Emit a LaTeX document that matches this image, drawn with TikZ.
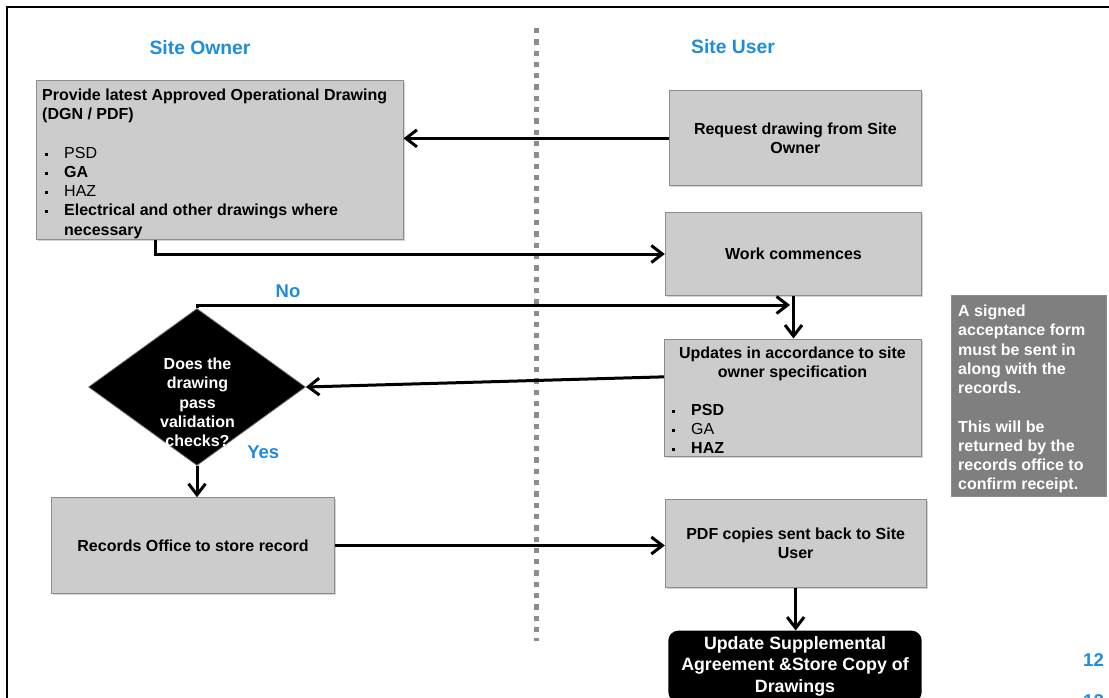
\documentclass[tikz,border=0pt]{standalone}
\usepackage{fontspec}
\setmainfont{Liberation Sans}
\usetikzlibrary{arrows.meta,shapes.geometric,shadows}
\definecolor{hblue}{RGB}{31,140,220}
\definecolor{boxgray}{RGB}{204,204,204}
\definecolor{boxedge}{RGB}{140,140,140}
\definecolor{notegray}{RGB}{127,127,127}
\definecolor{dotgray}{RGB}{140,140,140}
\newcommand\bul{\makebox[19pt][l]{\raisebox{2.5pt}{\rule{3pt}{3pt}}}}
\newcommand\fs[2]{\fontsize{#1}{#2}\selectfont}
\begin{document}
\begin{tikzpicture}[x=1pt,y=-1pt,
  box/.style={draw=boxedge, line width=1pt, fill=boxgray, inner sep=0pt,
    drop shadow={shadow xshift=1.5pt, shadow yshift=-1.5pt, opacity=0.35}},
  notebox/.style={draw=boxedge, line width=1pt, fill=notegray, inner sep=0pt},
  blackbox/.style={fill=black, rounded corners=10pt, inner sep=0pt, text=white,
    font=\fs{17.8}{21.5}\bfseries, align=center},
  decision/.style={diamond, fill=black, draw=black!55, line width=0.8pt, inner sep=0pt},
  body/.style={font=\fs{16}{19.2}\bfseries, text=black, inner sep=0pt},
  head/.style={font=\fs{19.3}{23}\bfseries, text=hblue, inner sep=0pt},
  lbl/.style={font=\fs{18.5}{22}\bfseries, text=hblue, inner sep=0pt},
  pagenum/.style={font=\fs{18.5}{22}\bfseries, text=hblue, inner sep=0pt},
  arr/.style={line width=3pt, -{Straight Barb[length=11pt,width=17pt]}},
  frame/.style={line width=2pt, draw=black},
  dotline/.style={line width=5pt, draw=dotgray, dash pattern=on 5.3pt off 6pt}
]
\useasboundingbox (0,0) rectangle (1109,698);
\clip (0,0) rectangle (1109,698);

% frame and lane divider
\draw[frame] (7,705) -- (7,7) -- (1115,7);
\draw[dotline] (536,28) -- (536,641);

% headings
\node[head] (hOwner) at (200,48) {Site Owner};
\node[head] (hUser) at (733,47) {Site User};

% boxes
\node[box, minimum width=366.5, minimum height=158.5] (box1) at (219.75,160.25) {};
\node[body, anchor=north west, align=left] (t1) at (42,89) {Provide latest Approved Operational Drawing\\(DGN / PDF)\\[19.2pt]%
\hspace*{3pt}\bul{\mdseries PSD}\\\hspace*{3pt}\bul GA\\\hspace*{3pt}\bul{\mdseries HAZ}\\%
\hspace*{3pt}\bul Electrical and other drawings where\\\hspace*{22pt}necessary};

\node[box, body, align=center, minimum width=252.7, minimum height=95.3] (box2) at (795.35,138.35) {Request drawing from Site\\Owner};
\node[box, body, align=center, minimum width=256.4, minimum height=83.4] (box3) at (793.5,254) {Work commences};

\node[box, minimum width=257.4, minimum height=117.7] (box4) at (793,397.85) {};
\node[body, anchor=north, align=center] (t4a) at (792.5,346.5) {Updates in accordance to site\\owner specification};
\node[body, anchor=north west, align=left] (t4b) at (672,404) {\bul PSD\\\bul{\mdseries GA}\\\bul HAZ};

\node[notebox, minimum width=155, minimum height=201.7] (note) at (1029.2,395.85) {};
\node[body, text=white, anchor=north west, align=left] (tnote) at (958,305) {A signed\\acceptance form\\must be sent in\\along with the\\records.\\[19.3pt]This will be\\returned by the\\records office to\\confirm receipt.};

\node[decision, minimum width=217, minimum height=157] (dia) at (197,387) {};
\node[body, text=white, anchor=north, align=center] (tdia) at (197.5,358) {Does the\\drawing\\pass\\validation\\checks?};

\node[box, body, align=center, minimum width=282.6, minimum height=95.6] (box5) at (193,545.5) {Records Office to store record};
\node[box, body, align=center, minimum width=260.7, minimum height=88.3] (box6) at (795.65,543.15) {PDF copies sent back to Site\\User};
\node[blackbox, minimum width=253.4, minimum height=71.3] (blk) at (795,666.35) {Update Supplemental\\Agreement \&Store Copy of\\Drawings};

% labels
\node[lbl] (lNo) at (288,291.7) {No};
\node[lbl] (lYes) at (263.3,452.7) {Yes};
\node[pagenum] (pg1) at (1093.5,660) {12};
\node[pagenum] (pg2) at (1093.5,701.5) {12};

% connectors
\coordinate (b1out) at (155,239.5);
\coordinate (nojoin) at (790,305);
\draw[arr] (box2.west) -- (box2.west -| box1.east);
\draw[arr] (b1out) |- (box3.west);
\draw[arr] (dia.north) |- (nojoin);
\draw[arr] (box3.south) -- (box3.south |- box4.north);
\draw[arr] ([yshift=21pt]box4.west) -- (dia.east);
\draw[arr] (dia.south) -- (dia.south |- box5.north);
\draw[arr] (box5.east) -- (box5.east -| box6.west);
\draw[arr] (box6.south) -- (box6.south |- blk.north);
\end{tikzpicture}
\end{document}
